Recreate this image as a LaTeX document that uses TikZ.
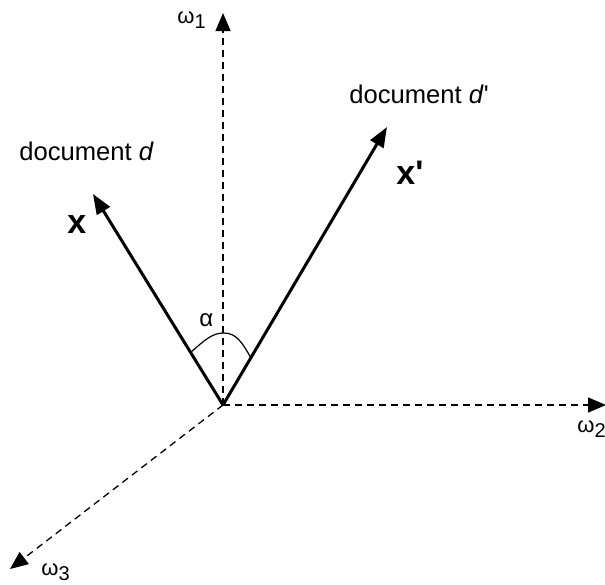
\documentclass[tikz,border=0pt]{standalone}
\usepackage{fontspec}
\setmainfont{Liberation Sans}
\usetikzlibrary{arrows.meta}
\newcommand{\omlab}[1]{{\fontsize{11}{13}\selectfont ω\raisebox{-2.5pt}{\fontsize{10}{12}\selectfont #1}}}
\begin{document}
\begin{tikzpicture}[x=0.5pt,y=-0.5pt,
  axis/.style={line width=0.65pt,dash pattern=on 3.5pt off 2.5pt,-{Triangle[length=9pt,width=7.5pt]}},
  vec/.style={line width=1.5pt,-{Triangle[length=10pt,width=7.5pt]}},
  lab/.style={inner sep=0pt,anchor=base west},
  doc/.style={lab,font=\fontsize{12.8}{15}\selectfont},
  bold/.style={lab,font=\fontsize{17}{20}\selectfont\bfseries}]
\useasboundingbox (0,0) rectangle (605,584);
\coordinate (O) at (223,405);
\coordinate (w1) at (223,13);
\coordinate (w2) at (606,405);
\coordinate (w3) at (10,569);
\coordinate (x) at (93,194);
\coordinate (xp) at (387,127);
\draw[axis] (O) -- (w1);
\draw[axis] (O) -- (w2);
\draw[axis] (O) -- (w3);
\draw[vec] (O) -- (x);
\draw[vec] (O) -- (xp);
\coordinate (a1) at (191,352);
\coordinate (a2) at (224,333);
\coordinate (a3) at (251,358);
\draw[line width=0.6pt] (a1) .. controls (205,340) and (212,333) .. (a2) .. controls (236,333) and (242,342) .. (a3);
\node[lab] (l1) at (177,23) {\omlab{1}};
\node[lab] (l2) at (577,432) {\omlab{2}};
\node[lab] (l3) at (41,575) {\omlab{3}};
\node[lab,font=\fontsize{12}{14}\selectfont] (al) at (199,326) {α};
\node[doc] (dd) at (19,160) {document \textit{d}};
\node[doc] (ddp) at (349,103) {document \textit{d}\textquotesingle};
\node[bold] (xl) at (67,233) {x};
\node[bold] (xpl) at (396,184) {x\textquotesingle};
\end{tikzpicture}
\end{document}
